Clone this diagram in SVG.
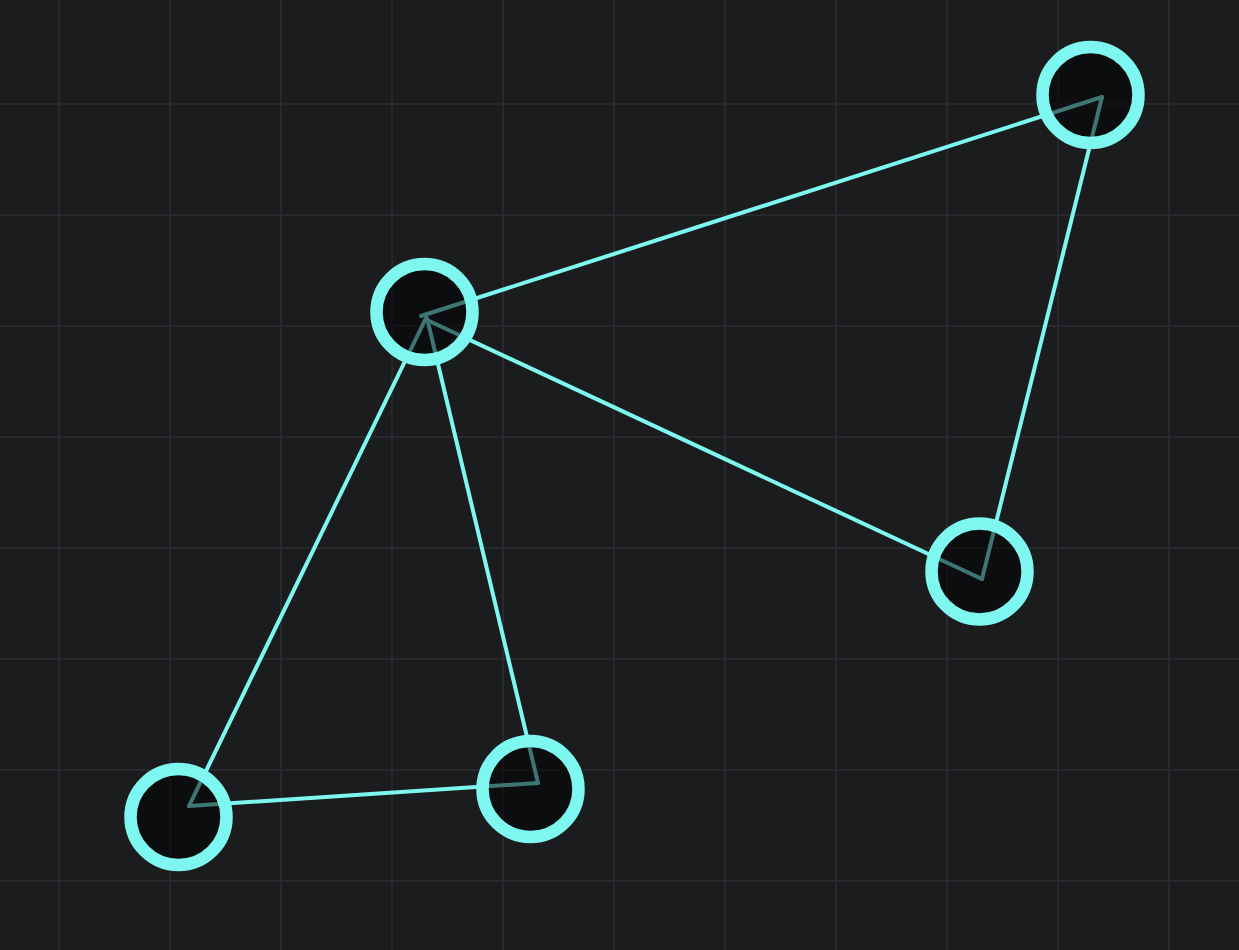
<svg xmlns="http://www.w3.org/2000/svg" width="1239" height="950" viewBox="0 0 1239 950">
<style>
.grid line{stroke:#28292c;stroke-width:2}
.edge{stroke:#7ff7f1;stroke-width:4;stroke-linecap:round;fill:none}
.node{fill:rgba(0,0,0,0.52);stroke:#7ff7f1;stroke-width:12.5}
</style>
<rect width="1239" height="950" fill="#1b1c1e"/>
<g class="grid">
<line x1="59" y1="0" x2="59" y2="950"/><line x1="170" y1="0" x2="170" y2="950"/><line x1="281" y1="0" x2="281" y2="950"/><line x1="392" y1="0" x2="392" y2="950"/><line x1="503" y1="0" x2="503" y2="950"/><line x1="614" y1="0" x2="614" y2="950"/><line x1="725" y1="0" x2="725" y2="950"/><line x1="836" y1="0" x2="836" y2="950"/><line x1="947" y1="0" x2="947" y2="950"/><line x1="1058" y1="0" x2="1058" y2="950"/><line x1="1169" y1="0" x2="1169" y2="950"/>
<line x1="0" y1="104" x2="1239" y2="104"/><line x1="0" y1="215" x2="1239" y2="215"/><line x1="0" y1="326" x2="1239" y2="326"/><line x1="0" y1="437" x2="1239" y2="437"/><line x1="0" y1="548" x2="1239" y2="548"/><line x1="0" y1="659" x2="1239" y2="659"/><line x1="0" y1="770" x2="1239" y2="770"/><line x1="0" y1="881" x2="1239" y2="881"/>
</g>
<g id="edges">
<line class="edge" x1="1102" y1="97" x2="421" y2="316"/>
<line class="edge" x1="1102" y1="97" x2="982" y2="579"/>
<line class="edge" x1="427" y1="320" x2="982" y2="579"/>
<line class="edge" x1="426" y1="318" x2="189" y2="806"/>
<line class="edge" x1="427" y1="318" x2="538" y2="783"/>
<line class="edge" x1="189" y1="806" x2="538" y2="783"/>
</g>
<g id="node-a"><circle class="node" cx="1090.5" cy="95" r="48"/></g>
<g id="node-b"><circle class="node" cx="424.5" cy="312" r="48"/></g>
<g id="node-c"><circle class="node" cx="979.5" cy="571.5" r="48"/></g>
<g id="node-d"><circle class="node" cx="178.5" cy="817" r="48"/></g>
<g id="node-e"><circle class="node" cx="530.5" cy="789" r="48"/></g>
</svg>
